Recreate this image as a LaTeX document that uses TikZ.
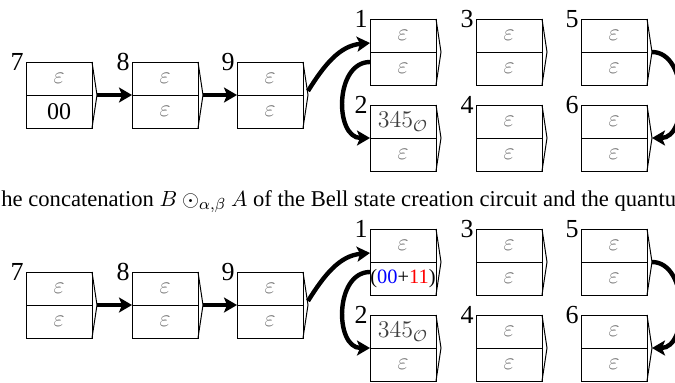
\documentclass[tikz,border=0pt]{standalone}
\usepackage[no-math]{fontspec}
\setmainfont{Liberation Serif}
\usetikzlibrary{arrows.meta,positioning}
\newcommand{\epsc}{\textcolor{black!55}{$\varepsilon$}}

\begin{document}
\begin{tikzpicture}[x=0.5pt,y=0.5pt, cell/.style={draw,line width=0.5pt,minimum width=33pt,minimum height=16.5pt,inner sep=0pt,outer sep=0pt,anchor=north west,font=\fontsize{12}{14}\selectfont}, lbl/.style={left,inner sep=1pt,font=\fontsize{13}{15}\selectfont}, link/.style={line width=2.2pt,-{Stealth[length=6.5pt,width=7.5pt,inset=1.5pt]}}]
\useasboundingbox (0,0) rectangle (675,-382);
\node[anchor=base west,font=\fontsize{11.3}{13}\selectfont,inner sep=0pt] (caption) at (1,-206) {he concatenation $B \odot_{\alpha,\beta} A$ of the Bell state creation circuit and the quantu};
% two runs of the same register chain
\foreach \p/\dy/\sevenb/\oneb in {up/0/{00}/{\epsc}, lo/210/{\epsc}/{{\fontsize{10.2}{12}\selectfont(\textcolor{blue}{00}+\textcolor{red}{11})}}}{
  \foreach \n/\x/\y/\tp/\bt in {7/26/62/\epsc/\sevenb, 8/132/62/\epsc/\epsc, 9/237/62/\epsc/\epsc, 1/370/19/\epsc/\oneb, 2/370/105/{\textcolor{black!75}{$345_{\mathcal O}$}}/\epsc, 3/476/19/\epsc/\epsc, 4/476/105/\epsc/\epsc, 5/581/19/\epsc/\epsc, 6/581/105/\epsc/\epsc}{
    \node[cell] (\p-\n-t) at (\x,-\y-\dy) {\tp}; \node[cell, below=0pt of \p-\n-t] (\p-\n-b) {\bt};
    \coordinate (\p-\n-c) at ([xshift=2.5pt]\p-\n-t.south east);
    \draw[line width=0.5pt] (\p-\n-t.north east) -- (\p-\n-c) -- (\p-\n-b.south east);
    \node[lbl] at (\p-\n-t.north west) {\n};
  }
  \draw[link] (\p-7-c) -- (\p-8-t.south west); \draw[link] (\p-8-c) -- (\p-9-t.south west);
  \draw[link] ([yshift=2pt]\p-9-c) to[out=58,in=185] ([yshift=4.5pt]\p-1-t.south west);
  \draw[link] ([yshift=-5pt]\p-1-b.north west) to[out=180,in=180,looseness=1.2] (\p-2-t.south west);
  \draw[link] (\p-5-c) to[out=0,in=0,looseness=1.1] (\p-6-c);
}
\end{tikzpicture}
\end{document}
